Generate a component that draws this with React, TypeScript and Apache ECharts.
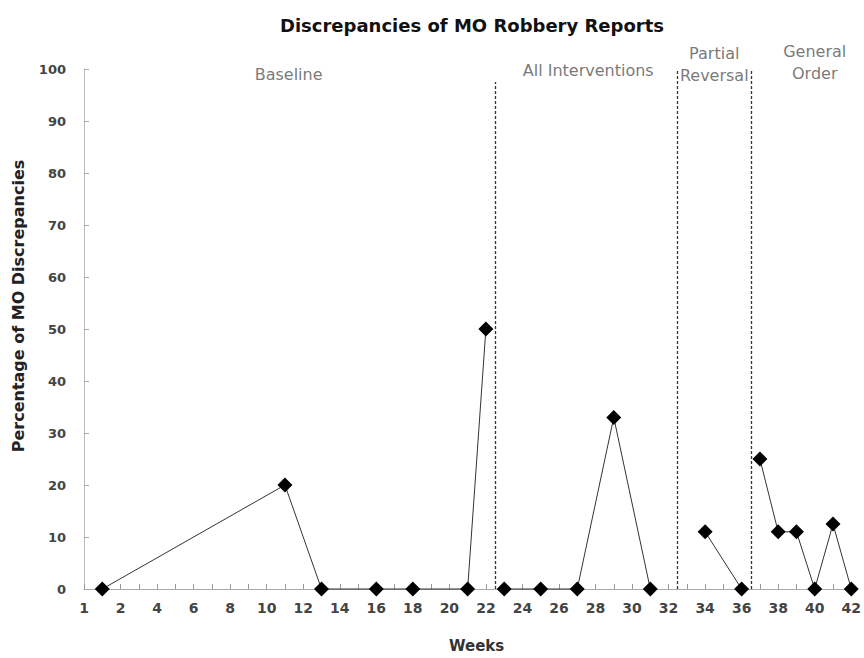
import React, { useEffect, useRef } from "react";
import * as echarts from "echarts";

const titleText = "Discrepancies of MO Robbery Reports";
const yAxisName = "Percentage of MO Discrepancies";
const xAxisName = "Weeks";

const baselineWeeks = [1, 11, 13, 16, 18, 21, 22];
const baselineValues = [0, 20, 0, 0, 0, 0, 50];
const interventionWeeks = [23, 25, 27, 29, 31];
const interventionValues = [0, 0, 0, 33, 0];
const reversalWeeks = [34, 36];
const reversalValues = [11, 0];
const generalWeeks = [37, 38, 39, 40, 41, 42];
const generalValues = [25, 11, 11, 0, 12.5, 0];

const xTickValues = [0, 2, 4, 6, 8, 10, 12, 14, 16, 18, 20, 22, 24, 26, 28, 30, 32, 34, 36, 38, 40, 42];
const xTickLabels = ["1", "2", "4", "6", "8", "10", "12", "14", "16", "18", "20", "22", "24", "26", "28", "30", "32", "34", "36", "38", "40", "42"];

const phaseNames = ["Baseline", "All Interventions", "Partial\nReversal", "General\nOrder"];
const phaseLabelX = [11.2, 27.6, 34.5, 40.0];
const phaseLabelY = [98.9, 99.7, 100.9, 101.2];

const phaseLineX = [22.5, 32.5, 36.5];
const phaseLineTop = [97.5, 100, 100];

const zip = (xs: number[], ys: number[]) => xs.map((x, i) => [x, ys[i]]);

export default function App() {
  const ref = useRef<HTMLDivElement>(null);
  useEffect(() => {
    if (!ref.current) return;
    const chart = echarts.init(ref.current, null, { renderer: "svg" });
    const lineSeries = (data: number[][]) => ({
      type: "line",
      data,
      symbol: "diamond",
      symbolSize: 15,
      clip: false,
      itemStyle: { color: "#000" },
      lineStyle: { color: "#333", width: 1 },
      z: 5,
    });
    chart.setOption({
      animation: false,
      backgroundColor: "#fff",
      title: {
        text: titleText,
        left: 467,
        top: 11,
        textAlign: "center",
        textStyle: { fontFamily: "DejaVu Sans", fontWeight: "bold", fontSize: 18, color: "#111" },
      },
      graphic: [
        {
          type: "text",
          x: 18,
          y: 306,
          rotation: Math.PI / 2,
          style: {
            text: yAxisName,
            fontFamily: "DejaVu Sans",
            fontWeight: "bold",
            fontSize: 16,
            fill: "#222",
            textAlign: "center",
            textVerticalAlign: "middle",
          },
        },
      ],
      grid: { left: 84, right: 10, top: 69, bottom: 65, containLabel: false },
      xAxis: {
        type: "value",
        min: 0,
        max: 42,
        interval: 1,
        name: xAxisName,
        nameLocation: "middle",
        nameGap: 49,
        nameTextStyle: { fontFamily: "DejaVu Sans", fontWeight: "bold", fontSize: 15, color: "#333", padding: [0, 0, 0, 18] },
        axisLine: { show: true, lineStyle: { color: "#aaa", width: 1 } },
        axisTick: { show: true, inside: true, length: 5, lineStyle: { color: "#999" } },
        splitLine: { show: false },
        axisLabel: {
          margin: 12,
          fontFamily: "DejaVu Sans",
          fontWeight: "bold",
          fontSize: 14,
          color: "#444",
          formatter: (v: number) => {
            const i = xTickValues.indexOf(v);
            return i >= 0 ? xTickLabels[i] : "";
          },
        },
      },
      yAxis: {
        type: "value",
        min: 0,
        max: 100,
        interval: 10,
        axisLine: { show: true, lineStyle: { color: "#bbb", width: 1 } },
        axisTick: { show: true, inside: true, length: 5, lineStyle: { color: "#aaa" } },
        splitLine: { show: false },
        axisLabel: {
          margin: 18,
          fontFamily: "DejaVu Sans",
          fontWeight: "bold",
          fontSize: 13,
          color: "#444",
        },
      },
      series: [
        lineSeries(zip(baselineWeeks, baselineValues)),
        lineSeries(zip(interventionWeeks, interventionValues)),
        lineSeries(zip(reversalWeeks, reversalValues)),
        lineSeries(zip(generalWeeks, generalValues)),
        {
          type: "line",
          data: [],
          markLine: {
            silent: true,
            symbol: "none",
            label: { show: false },
            lineStyle: { type: [3, 2], color: "#333", width: 1.3 },
            data: phaseLineX.map((x, i) => [
              { coord: [x, 0] },
              { coord: [x, phaseLineTop[i]] },
            ]),
          },
        },
        {
          type: "scatter",
          symbolSize: 0,
          clip: false,
          silent: true,
          data: phaseNames.map((n, i) => [phaseLabelX[i], phaseLabelY[i], n]),
          label: {
            show: true,
            position: "inside",
            formatter: (p: any) => p.value[2],
            fontFamily: "DejaVu Sans",
            fontSize: 16,
            lineHeight: 22,
            color: "#555",
          },
          z: 10,
        },
      ],
    });
    return () => chart.dispose();
  }, []);
  return <div ref={ref} style={{ width: 864, height: 658, position: "absolute", left: 0, top: 0 }} />;
}
